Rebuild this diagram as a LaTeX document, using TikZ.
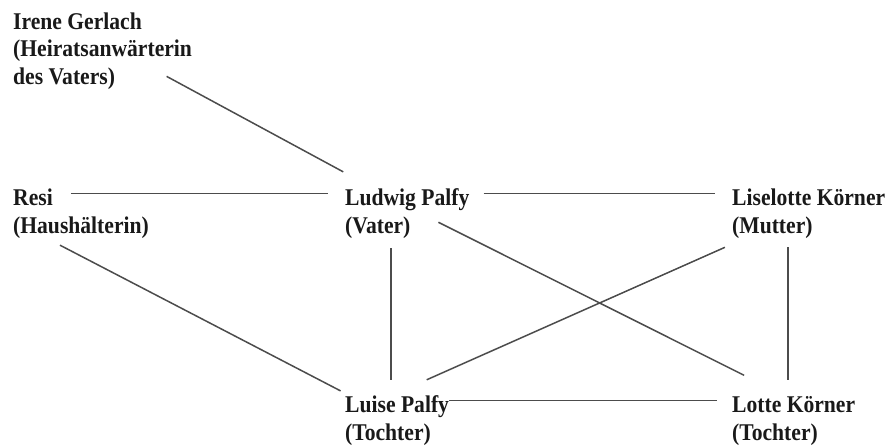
\documentclass[tikz,border=0pt]{standalone}
\usepackage{fontspec}
\setmainfont{Liberation Serif}[FakeStretch=0.9]
\usepackage{tikz}
\newcommand\famfont{\bfseries\fontsize{24}{28}\selectfont}

\begin{document}
\begin{tikzpicture}[x=1pt,y=-1pt,
        txt/.style={font=\famfont, inner sep=0pt, text=black!90},
        who/.style={txt, anchor=base west, text height=32pt, text depth=9pt},
        role/.style={txt, anchor=base west, text height=16pt, text depth=6pt},
        link/.style={draw=black!70, line width=1.5pt}]
        \useasboundingbox (0,0) rectangle (893,445);
        \node[who] (irene) at (13,29) {Irene Gerlach};
        \node[txt, align=left, anchor=north west] (irene-r) at (13,40) {(Heiratsanwärterin\\des Vaters)};
        \foreach \n/\x/\y/\a/\b in {resi/13/205/Resi/(Haushälterin), ludwig/345/205/Ludwig Palfy/(Vater),
            lise/732/205/Liselotte Körner/(Mutter), luise/345/412/Luise Palfy/(Tochter), lotte/732/412/Lotte Körner/(Tochter)}
        {
            \node[who] (\n) at (\x,\y) {\a};
            \node[role] (\n-r) at (\x,\y+28) {\b};
        }
        \draw[link, shorten <=-29pt, shorten >=2pt] (irene-r.south east) -- (ludwig.north west);
        \draw[link, shorten <=18pt, shorten >=17pt] (resi) -- (ludwig);
        \draw[link, shorten <=14pt, shorten >=17pt] (ludwig) -- (lise);
        \draw[link, shorten >=15pt] (luise) -- (lotte);
        \draw[link, shorten <=13pt, shorten >=5pt] (resi-r.-161) -- (luise.172);
        \draw[link, shorten <=9pt] (luise.106 |- ludwig-r.south) -- (luise.106);
        \draw[link, shorten <=18pt, shorten >=10pt] (ludwig.-54) -- (lotte.153);
        \draw[link, shorten <=20pt] (lise-r.-159) -- (luise.35);
        \draw[link, shorten <=8pt] (lotte.106 |- lise-r.south) -- (lotte.106);
    \end{tikzpicture}
\end{document}
